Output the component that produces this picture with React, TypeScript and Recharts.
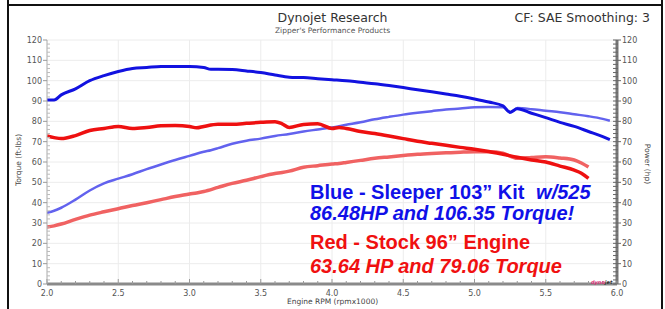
import React from 'react';
import { LineChart, Line, XAxis, YAxis, CartesianGrid } from 'recharts';

// Sleeper 103" kit run (blue)
const blueRpm = [2.0, 2.05, 2.1, 2.2, 2.3, 2.4, 2.5, 2.6, 2.7, 2.8, 2.9, 3.0, 3.1, 3.15, 3.2, 3.3, 3.4, 3.5, 3.6, 3.7, 3.8, 3.9, 4.0, 4.1, 4.2, 4.3, 4.4, 4.5, 4.6, 4.7, 4.8, 4.9, 5.0, 5.1, 5.2, 5.25, 5.3, 5.4, 5.5, 5.6, 5.7, 5.8, 5.9, 5.95];
const blueTorque = [90.5, 90.5, 93, 96, 100, 102.5, 104.5, 106, 106.5, 107, 107, 107, 106.5, 105.6, 105.6, 105.5, 104.8, 104, 102.8, 101.7, 101.5, 101, 100.5, 100, 99.2, 98.5, 97.6, 96.6, 95.5, 94.5, 93.4, 92.3, 91, 89.5, 87.6, 84.5, 86.2, 84, 81.8, 79.5, 77.5, 75, 72.5, 71];
const blueHp = [35, 36, 37.5, 41.5, 46, 49.5, 51.8, 54, 56.5, 58.8, 61, 63, 65, 65.8, 66.8, 69, 70.5, 71.5, 72.8, 73.8, 75, 76, 77, 78.3, 79.5, 81, 82.2, 83.3, 84.2, 85, 85.8, 86.3, 86.9, 87, 86.9, 84.2, 86.5, 86, 85.2, 84.5, 83.5, 82.5, 81.2, 80.3];

// Stock 96" engine run (red)
const redRpm = [2.0, 2.05, 2.1, 2.2, 2.3, 2.4, 2.5, 2.6, 2.7, 2.8, 2.9, 3.0, 3.05, 3.1, 3.2, 3.3, 3.4, 3.5, 3.6, 3.65, 3.7, 3.8, 3.9, 4.0, 4.05, 4.1, 4.2, 4.3, 4.4, 4.5, 4.6, 4.7, 4.8, 4.9, 5.0, 5.1, 5.2, 5.3, 5.4, 5.5, 5.6, 5.7, 5.75, 5.8];
const redTorque = [72.8, 72, 71.5, 73, 75.5, 76.5, 77.5, 76.5, 77, 77.8, 78, 77.5, 76.8, 77.5, 78.6, 78.6, 79, 79.5, 79.8, 78.8, 77, 78.5, 78.8, 76.5, 77, 76.5, 75, 74, 72.8, 71.5, 70.2, 69.2, 68.2, 67.2, 66.3, 65.2, 63.8, 62.3, 61, 60, 58, 56, 54.5, 52];
const redHp = [28, 28.6, 29.5, 31.8, 33.9, 35.5, 37, 38.6, 40, 41.5, 43, 44.3, 44.8, 45.5, 47.5, 49.5, 51, 52.8, 54.3, 54.8, 55.5, 57.4, 58.2, 59, 59.3, 59.8, 60.8, 61.8, 62.5, 63.2, 63.8, 64.2, 64.5, 64.8, 65, 65, 64.3, 61.8, 62.2, 62.6, 62, 61, 59.5, 57.5];

// axis ticks
const rpmTicks = [2.0, 2.1, 2.2, 2.3, 2.4, 2.5, 2.6, 2.7, 2.8, 2.9, 3.0, 3.1, 3.2, 3.3, 3.4, 3.5, 3.6, 3.7, 3.8, 3.9, 4.0, 4.1, 4.2, 4.3, 4.4, 4.5, 4.6, 4.7, 4.8, 4.9, 5.0, 5.1, 5.2, 5.3, 5.4, 5.5, 5.6, 5.7, 5.8, 5.9, 6.0];
const rpmGrid = [2.5, 3.0, 3.5, 4.0, 4.5, 5.0, 5.5];
const valueTicks = [0, 2, 4, 6, 8, 10, 12, 14, 16, 18, 20, 22, 24, 26, 28, 30, 32, 34, 36, 38, 40, 42, 44, 46, 48, 50, 52, 54, 56, 58, 60, 62, 64, 66, 68, 70, 72, 74, 76, 78, 80, 82, 84, 86, 88, 90, 92, 94, 96, 98, 100, 102, 104, 106, 108, 110, 112, 114, 116, 118, 120];
const valueGrid = [10, 20, 30, 40, 50, 60, 70, 80, 90, 100, 110, 120];

const toRows = (xs: number[], ys: number[]) => xs.map((rpm, i) => ({ rpm, v: ys[i] }));

const FONT = '"DejaVu Sans", Verdana, sans-serif';
const LABEL = '#555';

const isMajorRpm = (v: number) => Math.abs(v * 2 - Math.round(v * 2)) < 1e-6;

const RpmTick = (props: any) => {
  const { x, y, payload } = props;
  const major = isMajorRpm(payload.value);
  return (
    <g>
      <line x1={x} x2={x} y1={y} y2={y - (major ? 5 : 3)} stroke="#999" strokeWidth={1} />
      {major && (
        <text x={x} y={y + 12} textAnchor="middle" fontSize={8} fill={LABEL} fontFamily={FONT}>
          {payload.value.toFixed(1)}
        </text>
      )}
    </g>
  );
};

const LeftTick = (props: any) => {
  const { x, y, payload } = props;
  const major = payload.value % 10 === 0;
  return (
    <g>
      {major ? (
        <line x1={x} x2={x - 4} y1={y} y2={y} stroke="#999" />
      ) : (
        <line x1={x} x2={x + 3} y1={y} y2={y} stroke="#bbb" />
      )}
      {major && (
        <text x={x - 5} y={y + 3} textAnchor="end" fontSize={8} fill={LABEL} fontFamily={FONT}>
          {payload.value}
        </text>
      )}
    </g>
  );
};

const RightTick = (props: any) => {
  const { x, y, payload } = props;
  const major = payload.value % 10 === 0;
  return (
    <g>
      <line x1={x - 4} x2={x + (major ? 4 : 1)} y1={y} y2={y} stroke="#666" />
      {major && (
        <text x={x + 5} y={y + 3} textAnchor="start" fontSize={8} fill={LABEL} fontFamily={FONT}>
          {payload.value}
        </text>
      )}
    </g>
  );
};

export default function App() {
  const bold = { fontFamily: '"Liberation Sans", Arial, sans-serif', fontWeight: 700, fontSize: 20, lineHeight: '22px', whiteSpace: 'nowrap' as const };

  return (
    <div style={{ position: 'fixed', left: 0, top: 0, width: 665, height: 309, background: '#fff', overflow: 'hidden' }}>
      {/* page frame */}
      <div style={{ position: 'absolute', left: 7, top: 0, width: 2, height: 309, background: '#111' }} />
      <div style={{ position: 'absolute', left: 661, top: 0, width: 2, height: 309, background: '#111' }} />
      <div style={{ position: 'absolute', left: 7, top: 4, width: 656, height: 2, background: '#111' }} />

      <LineChart width={665} height={309} data={[]} margin={{ top: 40, right: 18, bottom: 5, left: 17 }} style={{ position: 'absolute', left: 0, top: 0 }}>
        <CartesianGrid stroke="#ececec" verticalValues={rpmGrid} horizontalValues={valueGrid} yAxisId="left" />
        <XAxis
          type="number"
          dataKey="rpm"
          domain={[2, 6]}
          ticks={rpmTicks}
          interval={0}
          height={20}
          tickSize={0}
          tickMargin={0}
          tick={<RpmTick />}
          axisLine={{ stroke: '#8a8a8a', strokeWidth: 3 }}
          tickLine={false}
          allowDataOverflow
        />
        <YAxis
          yAxisId="left"
          domain={[0, 120]}
          ticks={valueTicks}
          interval={0}
          width={30}
          tickSize={0}
          tickMargin={0}
          tick={<LeftTick />}
          axisLine={{ stroke: '#aaa' }}
          tickLine={false}
        />
        <YAxis
          yAxisId="right"
          orientation="right"
          domain={[0, 120]}
          ticks={valueTicks}
          interval={0}
          width={30}
          tickSize={0}
          tickMargin={0}
          tick={<RightTick />}
          axisLine={{ stroke: '#777', strokeWidth: 3 }}
          tickLine={false}
        />

        <Line yAxisId="right" data={toRows(redRpm, redHp)} dataKey="v" type="monotone" stroke="#f06262" strokeWidth={3.5} dot={false} isAnimationActive={false} />
        <Line yAxisId="right" data={toRows(blueRpm, blueHp)} dataKey="v" type="monotone" stroke="#6262ee" strokeWidth={2.5} dot={false} isAnimationActive={false} />
        <Line yAxisId="left" data={toRows(redRpm, redTorque)} dataKey="v" type="monotone" stroke="#ee1010" strokeWidth={3.5} dot={false} isAnimationActive={false} />
        <Line yAxisId="left" data={toRows(blueRpm, blueTorque)} dataKey="v" type="monotone" stroke="#1212e0" strokeWidth={3} dot={false} isAnimationActive={false} />
      </LineChart>

      {/* titles */}
      <div style={{ position: 'absolute', left: 0, width: 665, top: 10, textAlign: 'center', fontFamily: FONT, fontSize: 12.5, color: '#333' }}>
        Dynojet Research
      </div>
      <div style={{ position: 'absolute', left: 0, width: 665, top: 26, textAlign: 'center', fontFamily: FONT, fontSize: 7.5, color: '#555' }}>
        Zipper's Performance Products
      </div>
      <div style={{ position: 'absolute', right: 15, top: 10, fontFamily: FONT, fontSize: 12.5, color: '#333' }}>
        CF: SAE Smoothing: 3
      </div>

      {/* axis titles */}
      <div style={{ position: 'absolute', left: 0, width: 665, top: 297, textAlign: 'center', fontFamily: FONT, fontSize: 7.5, color: '#444' }}>
        Engine RPM (rpmx1000)
      </div>
      <div style={{ position: 'absolute', left: 18, top: 160, transform: 'translate(-50%, -50%) rotate(-90deg)', fontFamily: FONT, fontSize: 7.5, color: '#444', whiteSpace: 'nowrap' }}>
        Torque (ft-lbs)
      </div>
      <div style={{ position: 'absolute', left: 647, top: 164, transform: 'translate(-50%, -50%) rotate(90deg)', fontFamily: FONT, fontSize: 7.5, color: '#444', whiteSpace: 'nowrap' }}>
        Power (hp)
      </div>

      {/* tiny logo */}
      <div style={{ position: 'absolute', left: 591, top: 279, fontFamily: FONT, fontSize: 5, fontWeight: 700, fontStyle: 'italic', color: '#e0307a' }}>
        dyno<span style={{ color: '#333' }}>jet</span>
      </div>

      {/* annotations */}
      <div style={{ position: 'absolute', left: 310, top: 181, color: '#1010e8', ...bold }}>
        Blue - Sleeper 103” Kit <i style={{ marginLeft: 6 }}>w/525</i>
      </div>
      <div style={{ position: 'absolute', left: 310, top: 202, color: '#1010e8', fontStyle: 'italic', ...bold }}>
        86.48HP and 106.35 Torque!
      </div>
      <div style={{ position: 'absolute', left: 310, top: 231, color: '#f01010', ...bold }}>
        Red - Stock 96” Engine
      </div>
      <div style={{ position: 'absolute', left: 310, top: 255, color: '#f01010', fontStyle: 'italic', ...bold }}>
        63.64 HP and 79.06 Torque
      </div>
    </div>
  );
}
